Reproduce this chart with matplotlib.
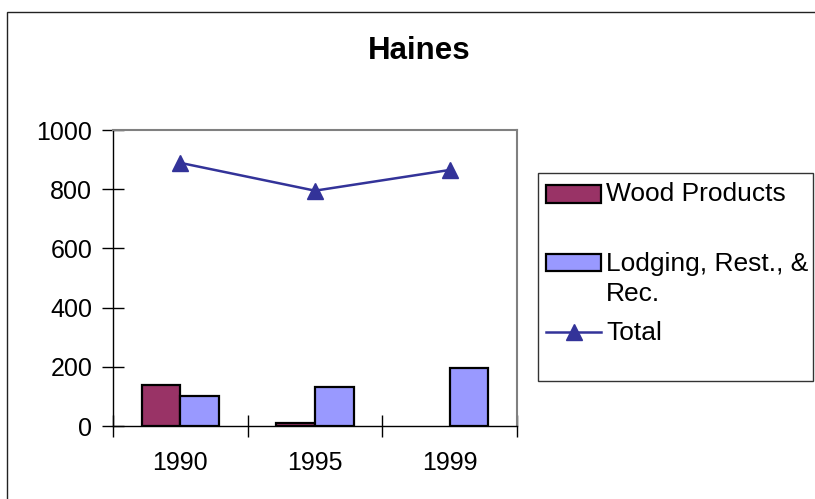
import matplotlib
matplotlib.use("Agg")
import matplotlib.pyplot as plt
from matplotlib.patches import Rectangle
from matplotlib.lines import Line2D
import numpy as np

plt.rcParams['font.family'] = ['Liberation Sans', 'DejaVu Sans']

title = "Haines"
years = ["1990", "1995", "1999"]
wood = [140, 10, np.nan]
lodging = [100, 133, 195]
total = [889, 795, 865]
series_names = ["Wood Products", "Lodging, Rest., &\nRec.", "Total"]
yticks = [0, 200, 400, 600, 800, 1000]

c_wood = "#993366"
c_lodg = "#9999FF"
c_total = "#333399"

fig = plt.figure(figsize=(8.15, 4.99), dpi=100)
W, H = 815, 499

def fx(px): return px / W
def fy(py): return 1 - py / H

# outer border
fig.add_artist(Rectangle((fx(7), fy(530)), fx(900), fy(12) - fy(530),
                         transform=fig.transFigure, fill=False, edgecolor="#222222", lw=1))

ax = fig.add_axes([fx(113), fy(426), fx(517) - fx(113), fy(130) - fy(426)])
x = np.arange(len(years))
bw = 0.286
ax.bar(x - bw / 2, wood, bw, color=c_wood, edgecolor="black", lw=1.6, zorder=2)
ax.bar(x + bw / 2, lodging, bw, color=c_lodg, edgecolor="black", lw=1.6, zorder=2)
ax.plot(x, total, color=c_total, lw=1.8, marker="^", ms=12, zorder=3)

ax.set_xlim(-0.5, len(years) - 0.5)
ax.set_ylim(0, 1000)
ax.set_yticks(yticks)
ax.set_yticklabels([str(v) for v in yticks], fontsize=18)
ax.set_xticks(np.arange(-0.5, len(years), 1.0), minor=False)
ax.set_xticklabels([])
ax.set_xticks(x, minor=True)
ax.set_xticklabels(years, minor=True, fontsize=18)
ax.tick_params(axis='x', which='minor', length=0, pad=18)
ax.tick_params(axis='x', which='major', direction='inout', length=16, width=1)
ax.tick_params(axis='y', direction='inout', length=16, width=1, pad=7)
for s in ['top', 'right']:
    ax.spines[s].set_color("#808080")
    ax.spines[s].set_linewidth(1.5)
for s in ['left', 'bottom']:
    ax.spines[s].set_color("black")
    ax.spines[s].set_linewidth(1)

fig.text(fx(419), fy(51), title, ha="center", va="center", fontsize=22.5, fontweight="bold")

# legend box
fig.add_artist(Rectangle((fx(538), fy(381)), fx(813) - fx(538), fy(173) - fy(381),
                         transform=fig.transFigure, fill=False, edgecolor="#333333", lw=1))
fig.add_artist(Rectangle((fx(546), fy(203)), fx(601) - fx(546), fy(185) - fy(203),
                         transform=fig.transFigure, facecolor=c_wood, edgecolor="black", lw=1.6))
fig.add_artist(Rectangle((fx(546), fy(271)), fx(601) - fx(546), fy(254) - fy(271),
                         transform=fig.transFigure, facecolor=c_lodg, edgecolor="black", lw=1.6))
fig.add_artist(Line2D([fx(546), fx(601)], [fy(332), fy(332)], transform=fig.transFigure,
                      color=c_total, lw=1.8))
fig.add_artist(Line2D([fx(573.5)], [fy(332)], transform=fig.transFigure,
                      color=c_total, marker="^", ms=12, lw=0))
fig.text(fx(606), fy(194), series_names[0], ha="left", va="center", fontsize=19)
for i, line in enumerate(series_names[1].split("\n")):
    fig.text(fx(606), fy(264 + 30 * i), line, ha="left", va="center", fontsize=19)
fig.text(fx(606), fy(333), series_names[2], ha="left", va="center", fontsize=19)

fig.savefig("out.png", dpi=100)
